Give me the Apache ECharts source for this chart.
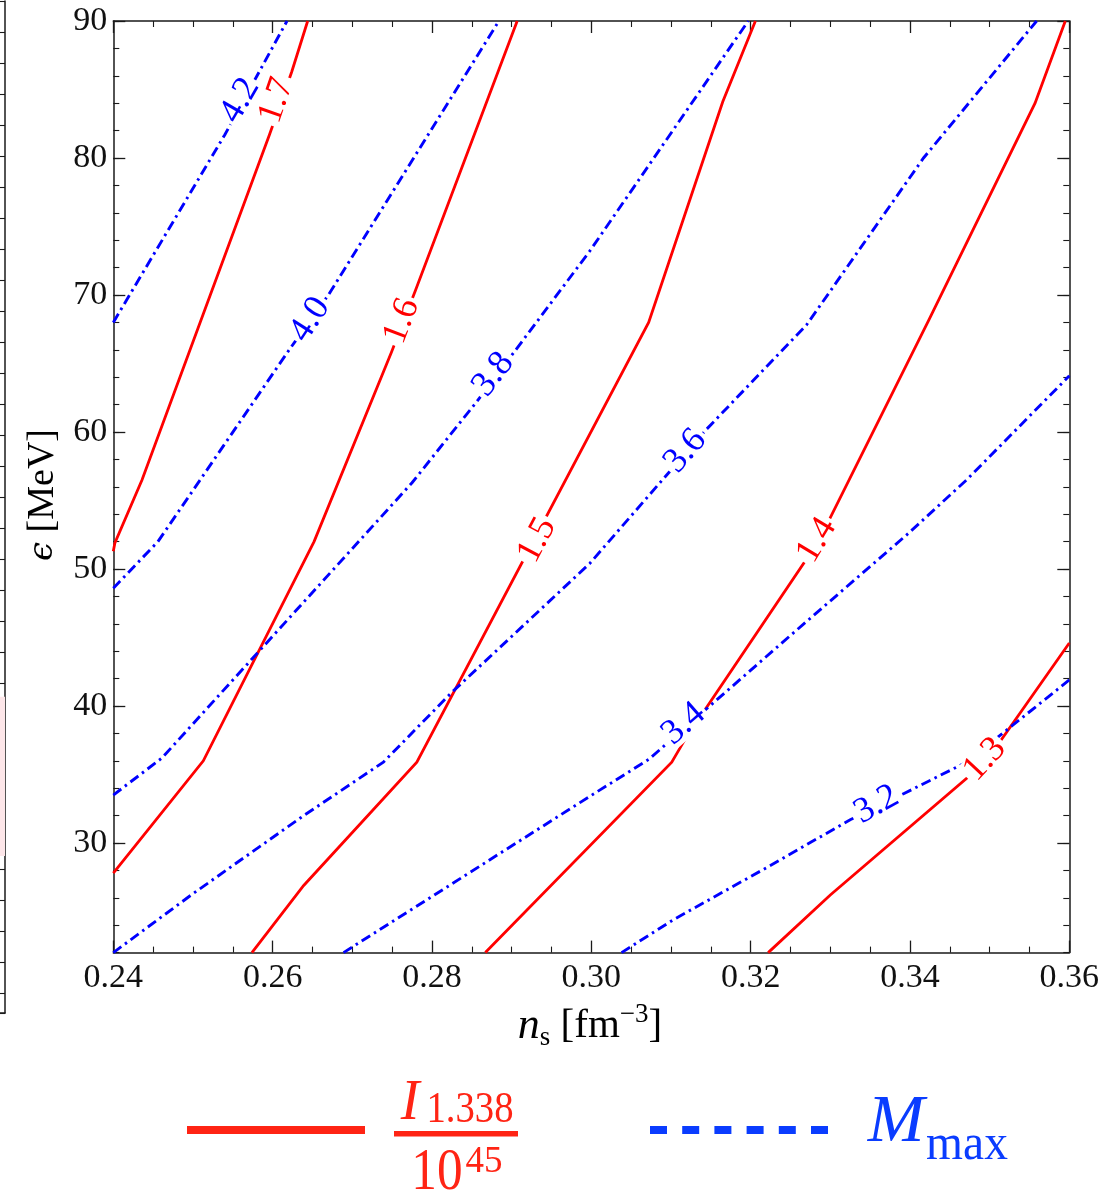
<!DOCTYPE html>
<html><head><meta charset="utf-8">
<script src="https://cdn.jsdelivr.net/npm/echarts@6/dist/echarts.min.js"></script>
<style>html,body{margin:0;padding:0;background:#fff}#c{width:1119px;height:1198px}</style>
</head><body><div id="c"></div>
<script>
// ---------------- data ----------------
const xTicks = [0.24, 0.26, 0.28, 0.30, 0.32, 0.34, 0.36];
const yTicks = [30, 40, 50, 60, 70, 80, 90];

// I_{1.338}/10^45 contours  [n_s, eps]
const I17 = [[0.2400,51.3],[0.2402,51.9],[0.2436,56.5],[0.2596,81.7],[0.2624,86.3],[0.2644,90]];
const I16 = [[0.2400,27.8],[0.2513,36.0],[0.2652,52.0],[0.2749,65.8],[0.2779,70.3],[0.2907,90]];
const I15 = [[0.2574,22],[0.2639,26.9],[0.2781,35.9],[0.3072,68.0],[0.3165,84.1],[0.3206,90]];
const I14 = [[0.2867,22],[0.3101,35.9],[0.3118,37.6],[0.3285,52.0],[0.3423,68.1],[0.3557,84.0],[0.3595,90]];
const I13 = [[0.3222,22],[0.3300,26.2],[0.3495,35.9],[0.3600,44.6]];

// M_max contours
const M42 = [[0.2400,68.0],[0.2540,81.7],[0.2618,90]];
const M40 = [[0.2400,48.6],[0.2456,52.0],[0.2622,66.1],[0.2670,70.0],[0.2884,90]];
const M38 = [[0.2400,33.5],[0.2461,36.2],[0.2708,52.0],[0.2775,56.3],[0.2856,62.2],[0.2904,65.9],[0.2998,73.2],[0.3197,90]];
const M36 = [[0.2400,22],[0.2500,26.3],[0.2639,32.0],[0.2739,35.9],[0.2825,41.0],[0.2998,50.4],[0.3143,60.1],[0.3270,67.8],[0.3417,80.0],[0.3559,90]];
const M34 = [[0.2689,22],[0.2998,33.4],[0.3072,36.1],[0.3249,45.1],[0.3398,52.6],[0.3471,56.5],[0.3600,64.1]];
const M32 = [[0.3038,22],[0.3103,24.4],[0.3220,28.2],[0.3325,31.7],[0.3392,33.6],[0.3471,35.9],[0.3600,41.9]];

const I_names = ['1.7','1.6','1.5','1.4','1.3'];
const I_data  = [I17, I16, I15, I14, I13];
const M_names = ['4.2','4.0','3.8','3.6','3.4','3.2'];
const M_data  = [M42, M40, M38, M36, M34, M32];

// inline contour labels
const labelText = ['4.2','1.7','4.0','1.6','3.8','3.6','1.5','1.4','3.4','3.2','1.3'];
const labelX    = [0.2559,0.2605,0.2647,0.2762,0.2877,0.3118,0.2932,0.3283,0.3116,0.3358,0.3494];
const labelY    = [84.2,84.2,68.2,68.1,64.2,58.6,52.1,52.1,38.7,32.8,36.1];
const labelKind = ['M','I','M','I','M','M','I','I','M','M','I'];

// neighbouring panel fragment (left edge): tick spacing and shaded band, in its own px-like units
const ghostMax = 1012;
const ghostBand = [695.7, 855];

// ---------------- styles ----------------
const RED = '#ff0000', BLUE = '#0000ff';
const LEG_RED = '#ff2414', LEG_BLUE = '#0a3cff';
const FRAME = '#1a1a1a';
const SERIF = '"Liberation Serif", "DejaVu Serif", serif';
const labelRot = {'4.2':60,'1.7':71,'4.0':57,'1.6':69,'3.8':52,'3.6':49,'1.5':62,'1.4':59,'3.4':41,'3.2':29,'1.3':47};

const G = {left:113.3, top:21, width:956, height:931.6};

function xAx(pos, labels){
  return {gridIndex:0, type:'value', min:0.24, max:0.36, interval:0.02, position:pos,
    axisLine:{show:true, onZero:false, lineStyle:{color:FRAME, width:1.5}},
    axisTick:{show:true, inside:true, length:12, lineStyle:{color:FRAME, width:1.3}},
    minorTick:{show:true, splitNumber:4, length:6, lineStyle:{color:FRAME, width:1.1}},
    axisLabel:{show:labels, formatter:v=>v.toFixed(2), fontFamily:SERIF, fontSize:34, color:'#111', margin:8},
    splitLine:{show:false}};
}
function yMinor(pos){
  return {gridIndex:0, type:'value', min:22, max:90, interval:2, position:pos,
    axisLine:{show:true, onZero:false, lineStyle:{color:FRAME, width:1.5}},
    axisTick:{show:true, inside:true, length:6, lineStyle:{color:FRAME, width:1.1}},
    axisLabel:{show:false}, splitLine:{show:false}};
}
function yMajor(pos, labels){
  return {gridIndex:0, type:'value', min:22, max:90, interval:2, position:pos,
    axisLine:{show:false, onZero:false},
    axisTick:{show:true, inside:true, length:12, customValues:yTicks, lineStyle:{color:FRAME, width:1.3}},
    axisLabel:{show:labels, customValues:yTicks, fontFamily:SERIF, fontSize:34, color:'#111', margin:6},
    splitLine:{show:false}};
}

const series = [];
I_data.forEach((d,i)=>series.push({name:'I'+I_names[i], type:'line', xAxisIndex:0, yAxisIndex:0, data:d,
  showSymbol:false, symbol:'none', silent:true, z:3,
  lineStyle:{color:RED, width:2.8, cap:'butt', join:'miter'}}));
M_data.forEach((d,i)=>series.push({name:'M'+M_names[i], type:'line', xAxisIndex:0, yAxisIndex:0, data:d,
  showSymbol:false, symbol:'none', silent:true, z:4,
  lineStyle:{color:BLUE, width:2.9, type:[10,4.5,2.5,4.5], cap:'butt', join:'miter'}}));

// inline labels drawn at their data coordinates, with a white box that breaks the line
series.push({type:'custom', xAxisIndex:0, yAxisIndex:0, silent:true, z:20, clip:false,
  data: labelText.map((t,i)=>[labelX[i], labelY[i]]),
  renderItem:(params, api)=>{
    const i = params.dataIndex, t = labelText[i];
    const p = api.coord([api.value(0), api.value(1)]);
    return {type:'text', x:p[0], y:p[1], rotation:labelRot[t]*Math.PI/180, z2:100,
      style:{text:t, fontFamily:SERIF, fontSize:36, fill: labelKind[i]==='I'?RED:BLUE,
        align:'center', verticalAlign:'middle', backgroundColor:'#fff', padding:[1,3,0,3], lineHeight:28}};
  }});

// fragment of the neighbouring panel
series.push({type:'line', xAxisIndex:2, yAxisIndex:4, data:[], silent:true,
  markArea:{silent:true, itemStyle:{color:'#fde6e9'}, data:[[{yAxis:ghostBand[0]},{yAxis:ghostBand[1]}]]}});

const legend = [
  {type:'rect', shape:{x:187, y:1126, width:178, height:8}, style:{fill:LEG_RED}},
  {type:'text', x:410, y:1104, style:{text:'I', fontFamily:SERIF, fontStyle:'italic', fontSize:56, fill:LEG_RED, align:'center', verticalAlign:'middle'}},
  {type:'text', x:470, y:1110, scaleX:0.86, style:{text:'1.338', fontFamily:SERIF, fontSize:45, fill:LEG_RED, align:'center', verticalAlign:'middle'}},
  {type:'rect', shape:{x:394, y:1131, width:124, height:5.5}, style:{fill:LEG_RED}},
  {type:'text', x:437, y:1173, scaleX:0.87, style:{text:'10', fontFamily:SERIF, fontSize:59, fill:LEG_RED, align:'center', verticalAlign:'middle'}},
  {type:'text', x:484, y:1162, style:{text:'45', fontFamily:SERIF, fontSize:37, fill:LEG_RED, align:'center', verticalAlign:'middle'}},
  {type:'text', x:896, y:1123, style:{text:'M', fontFamily:SERIF, fontStyle:'italic', fontSize:68, fill:LEG_BLUE, align:'center', verticalAlign:'middle'}},
  {type:'text', x:967, y:1146, scaleX:0.95, style:{text:'max', fontFamily:SERIF, fontSize:50, fill:LEG_BLUE, align:'center', verticalAlign:'middle'}},
  // axis titles
  {type:'text', x:43, y:495, rotation:Math.PI/2, style:{
    text:'{i|ϵ}{r| [MeV]}', fill:'#000', align:'center', verticalAlign:'middle',
    rich:{i:{fontFamily:'"DejaVu Serif", serif', fontStyle:'italic', fontSize:34, fill:'#000'},
          r:{fontFamily:SERIF, fontSize:38, fill:'#000'}}}},
  {type:'text', x:590, y:1026, style:{
    text:'{i|n}{sub|s}{r| [fm}{sup|−3}{r|]}', fill:'#000', align:'center', verticalAlign:'middle',
    rich:{i:{fontFamily:SERIF, fontStyle:'italic', fontSize:44, lineHeight:50, fill:'#000'},
          r:{fontFamily:SERIF, fontSize:41, lineHeight:50, fill:'#000'},
          sub:{fontFamily:SERIF, fontSize:27, verticalAlign:'bottom', lineHeight:50, fill:'#000'},
          sup:{fontFamily:SERIF, fontSize:27, verticalAlign:'top', lineHeight:50, fill:'#000'}}}}
];
// blue dashed legend line (6 dashes)
for (let k=0;k<6;k++) legend.push({type:'rect', shape:{x:650+k*32.2, y:1126, width:17, height:8}, style:{fill:LEG_BLUE}});

const option = {
  animation:false,
  backgroundColor:'#fff',
  grid:[{left:G.left, top:G.top, width:G.width, height:G.height},
        {left:-10, top:1, width:15, height:ghostMax}],
  xAxis:[xAx('bottom', true), xAx('top', false),
    {gridIndex:1, type:'value', min:0, max:1, position:'bottom',
     axisLine:{show:true, onZero:false, lineStyle:{color:FRAME, width:1.5}},
     axisTick:{show:false}, axisLabel:{show:false}, splitLine:{show:false}}],
  yAxis:[yMinor('left'), yMajor('left', true), yMinor('right'), yMajor('right', false),
    {gridIndex:1, type:'value', min:0, max:ghostMax, interval:31, inverse:true, position:'right',
     axisLine:{show:true, onZero:false, lineStyle:{color:FRAME, width:1.5}},
     axisTick:{show:true, inside:true, length:5, lineStyle:{color:FRAME, width:1.1}},
     axisLabel:{show:false}, splitLine:{show:false}}],
  series: series,
  graphic: legend
};
const chart = echarts.init(document.getElementById('c'));
chart.setOption(option);
</script></body></html>
